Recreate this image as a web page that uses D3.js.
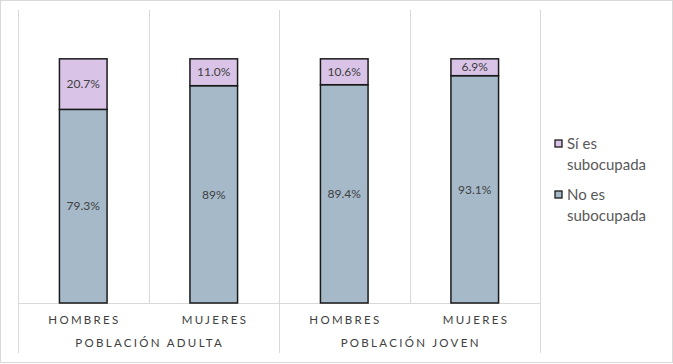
<!DOCTYPE html>
<html><head><meta charset="utf-8">
<script src="https://cdn.jsdelivr.net/npm/d3@7"></script>
<style>body{margin:0;background:#fff}svg{display:block}</style>
</head><body><svg id="c" width="673" height="364"></svg>
<script>
const groups = ["POBLACIÓN ADULTA", "POBLACIÓN JOVEN"];
const categories = ["HOMBRES", "MUJERES", "HOMBRES", "MUJERES"];
const categoryGroup = [0, 0, 1, 1];
const noEs = [79.3, 89, 89.4, 93.1];
const siEs = [20.7, 11.0, 10.6, 6.9];
const noLabels = ["79.3%", "89%", "89.4%", "93.1%"];
const siLabels = ["20.7%", "11.0%", "10.6%", "6.9%"];
const seriesNames = ["Sí es subocupada", "No es subocupada"];
const colors = {si: "#d9c3e6", no: "#a6b9c9"};

(function(){
const svg = d3.select("#c");
const W = 673, H = 364;
const pL = 18, pR = 540, pT = 10, pB = 303;
const font = "Lato, Carlito, 'Open Sans', sans-serif";

svg.append("rect").attr("x",0.5).attr("y",0.5).attr("width",W-1).attr("height",H-2)
  .attr("fill","#fff").attr("stroke","#d9d9d9");

const idx = d3.range(categories.length);
const x = d3.scaleBand().domain(idx).range([pL, pR]).paddingInner(0).paddingOuter(0);
const y = d3.scaleLinear().domain([0, 120]).range([pB, pT]);
const bw = x.bandwidth() * 0.365;

const g = svg.append("g");
idx.forEach(i => {
  const xx = Math.round(x(i)) + 0.5;
  const isGroupEdge = (i === 0 || categoryGroup[i] !== categoryGroup[i-1]);
  g.append("line").attr("x1",xx).attr("x2",xx).attr("y1",pT).attr("y2", isGroupEdge ? 353 : pB)
    .attr("stroke","#d9d9d9").attr("stroke-width",1);
});
g.append("line").attr("x1",pR+0.5).attr("x2",pR+0.5).attr("y1",pT).attr("y2",353)
  .attr("stroke","#d9d9d9");
g.append("line").attr("x1",pL).attr("x2",pR).attr("y1",pB+0.5).attr("y2",pB+0.5)
  .attr("stroke","#d9d9d9");

const bars = svg.append("g");
idx.forEach(i => {
  const cx = x(i) + x.bandwidth()/2;
  bars.append("rect").attr("x", cx - bw/2).attr("width", bw)
    .attr("y", y(noEs[i])).attr("height", y(0) - y(noEs[i]))
    .attr("fill", colors.no).attr("stroke","#1a1a1a").attr("stroke-width",1.5);
  bars.append("rect").attr("x", cx - bw/2).attr("width", bw)
    .attr("y", y(noEs[i] + siEs[i])).attr("height", y(noEs[i]) - y(noEs[i] + siEs[i]))
    .attr("fill", colors.si).attr("stroke","#1a1a1a").attr("stroke-width",1.5);
  bars.append("text").attr("x", cx).attr("y", (y(0) + y(noEs[i]))/2)
    .attr("dy","0.35em").attr("text-anchor","middle")
    .attr("font-family",font).attr("font-size",12).attr("fill","#404040").text(noLabels[i]);
  bars.append("text").attr("x", cx).attr("y", (y(noEs[i]) + y(noEs[i]+siEs[i]))/2)
    .attr("dy","0.35em").attr("text-anchor","middle")
    .attr("font-family",font).attr("font-size",12).attr("fill","#404040").text(siLabels[i]);
});

const ax = svg.append("g").attr("font-family",font).attr("fill","#404040");
idx.forEach(i => {
  ax.append("text").attr("x", x(i) + x.bandwidth()/2 + 1.2).attr("y", 324)
    .attr("text-anchor","middle").attr("font-size",11.5).attr("letter-spacing","2.3px")
    .text(categories[i]);
});
groups.forEach((gname, gi) => {
  const members = idx.filter(i => categoryGroup[i] === gi);
  const x0 = x(members[0]), x1 = x(members[members.length-1]) + x.bandwidth();
  ax.append("text").attr("x", (x0+x1)/2 + 1.2).attr("y", 347)
    .attr("text-anchor","middle").attr("font-size",11.5).attr("letter-spacing","2.3px")
    .text(gname);
});

const lg = svg.append("g").attr("font-family",font).attr("font-size",15).attr("fill","#595959");
const legendItems = [
  {name: seriesNames[0], color: colors.si, y: 144},
  {name: seriesNames[1], color: colors.no, y: 195}
];
legendItems.forEach(it => {
  lg.append("rect").attr("x",555).attr("y",it.y-4).attr("width",7).attr("height",7)
    .attr("fill",it.color).attr("stroke","#1a1a1a").attr("stroke-width",1.3);
  const parts = it.name.split(" ");
  const l1 = parts.slice(0,2).join(" "), l2 = parts.slice(2).join(" ");
  lg.append("text").attr("x",567).attr("y",it.y).attr("dy","0.35em").text(l1);
  lg.append("text").attr("x",567).attr("y",it.y+21).attr("dy","0.35em").text(l2);
});
})();
</script></body></html>
